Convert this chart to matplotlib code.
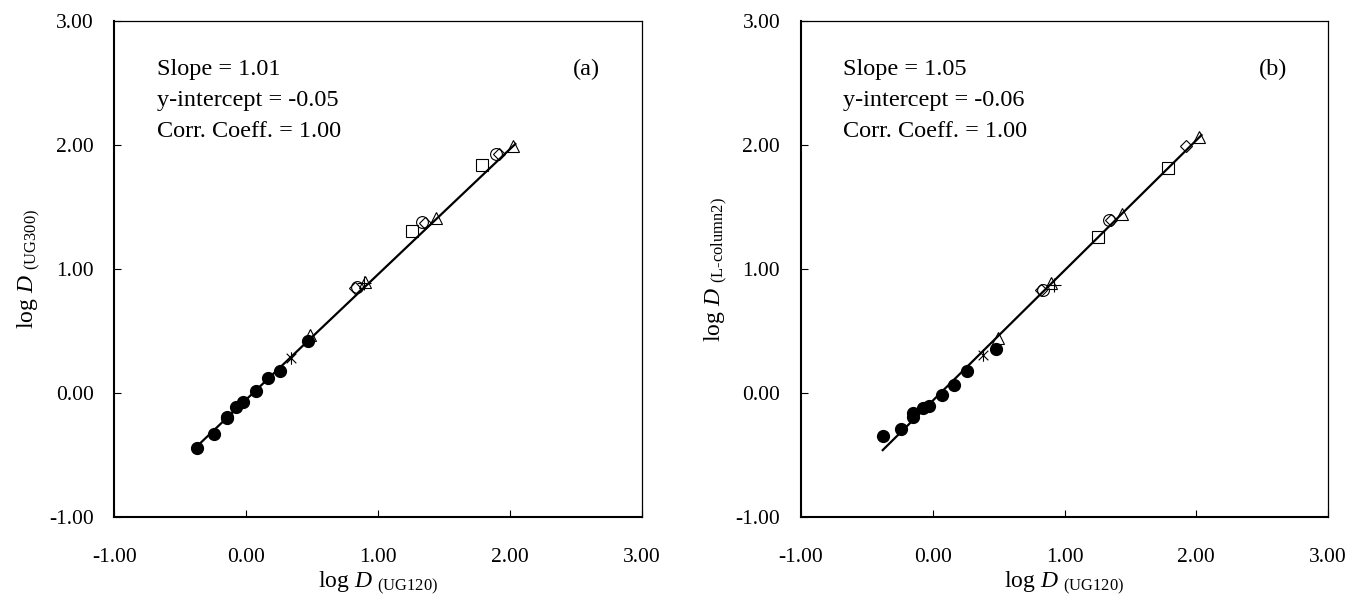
import matplotlib
matplotlib.use("Agg")
import matplotlib.pyplot as plt
import numpy as np
from matplotlib.path import Path

plt.rcParams['font.family'] = ['Liberation Serif', 'DejaVu Serif']
plt.rcParams['mathtext.fontset'] = 'custom'
plt.rcParams['mathtext.rm'] = 'Liberation Serif'
plt.rcParams['mathtext.it'] = 'Liberation Serif:italic'

# --- Panel (a) : log D (UG120) vs log D (UG300) ---
a_filled_x = [-0.377, -0.246, -0.150, -0.145, -0.080, -0.029, 0.070, 0.165, 0.256, 0.468]
a_filled_y = [-0.441, -0.328, -0.202, -0.195, -0.110, -0.070, 0.019, 0.119, 0.177, 0.419]
a_star_x = [0.337]
a_star_y = [0.285]
a_tri_x = [0.48, 0.90, 1.436, 2.02]
a_tri_y = [0.47, 0.90, 1.414, 1.99]
a_dia_x = [0.82, 1.355, 1.915]
a_dia_y = [0.85, 1.373, 1.927]
a_circ_x = [0.84, 1.332, 1.89]
a_circ_y = [0.86, 1.381, 1.93]
a_sq_x = [1.255, 1.789]
a_sq_y = [1.312, 1.841]
a_plus_x = [0.89]
a_plus_y = [0.89]
a_fit = (1.01, -0.05)
a_stats = ["Slope = 1.01", "y-intercept = -0.05", "Corr. Coeff. = 1.00"]

# --- Panel (b) : log D (UG120) vs log D (L-column2) ---
b_filled_x = [-0.375, -0.243, -0.152, -0.147, -0.076, -0.026, 0.073, 0.159, 0.263, 0.478]
b_filled_y = [-0.347, -0.285, -0.196, -0.159, -0.119, -0.102, -0.014, 0.062, 0.175, 0.360]
b_star_x = [0.384]
b_star_y = [0.306]
b_tri_x = [0.496, 0.90, 1.435, 2.02]
b_tri_y = [0.444, 0.89, 1.444, 2.07]
b_dia_x = [0.82, 1.35, 1.92]
b_dia_y = [0.83, 1.40, 1.99]
b_circ_x = [0.84, 1.334]
b_circ_y = [0.83, 1.395]
b_sq_x = [1.253, 1.789]
b_sq_y = [1.256, 1.817]
b_plus_x = [0.92]
b_plus_y = [0.87]
b_fit = (1.05, -0.06)
b_stats = ["Slope = 1.05", "y-intercept = -0.06", "Corr. Coeff. = 1.00"]

fit_x_range = (-0.38, 2.04)
ticks = [-1.0, 0.0, 1.0, 2.0, 3.0]

# marqueur étoile (X + barre verticale)
star = Path([(-1, -1), (1, 1), (-1, 1), (1, -1), (0, -1.3), (0, 1.3)],
            [Path.MOVETO, Path.LINETO, Path.MOVETO, Path.LINETO, Path.MOVETO, Path.LINETO])


def draw_panel(ax, d, ylabel, letter):
    fx = np.array(fit_x_range)
    ax.plot(fx, d['fit'][0] * fx + d['fit'][1], color='black', lw=1.6, zorder=2)
    ax.plot(d['filled'][0], d['filled'][1], 'o', ms=8.5, color='black', zorder=3, ls='none')
    ax.plot(d['star'][0], d['star'][1], marker=star, ms=9, mec='black', mew=0.8, ls='none', zorder=3)
    ax.plot(d['tri'][0], d['tri'][1], '^', ms=9, mfc='none', mec='black', mew=0.8, ls='none', zorder=3)
    ax.plot(d['dia'][0], d['dia'][1], 'D', ms=6.5, mfc='none', mec='black', mew=0.8, ls='none', zorder=3)
    ax.plot(d['circ'][0], d['circ'][1], 'o', ms=8.5, mfc='none', mec='black', mew=0.8, ls='none', zorder=3)
    ax.plot(d['sq'][0], d['sq'][1], 's', ms=8.5, mfc='none', mec='black', mew=0.8, ls='none', zorder=3)
    ax.plot(d['plus'][0], d['plus'][1], '+', ms=10, mec='black', mew=0.8, ls='none', zorder=3)

    ax.set_xlim(-1, 3)
    ax.set_ylim(-1, 3)
    ax.set_xticks(ticks)
    ax.set_yticks(ticks)
    ax.set_xticklabels(["%.2f" % t for t in ticks])
    ax.set_yticklabels(["%.2f" % t for t in ticks])
    ax.tick_params(direction='in', length=5, width=0.8, labelsize=15.5)
    ax.tick_params(axis='x', pad=22)
    ax.tick_params(axis='y', pad=15)
    for side in ['left', 'bottom']:
        ax.spines[side].set_linewidth(1.5)
    for side in ['top', 'right']:
        ax.spines[side].set_linewidth(0.9)

    ax.set_xlabel(r"log $D$ $_{\mathrm{(UG120)}}$", fontsize=17, labelpad=2)
    ax.set_ylabel(ylabel, fontsize=17, labelpad=4)

    for txt, yy in zip(d['stats'], [0.891, 0.829, 0.766]):
        ax.text(0.08, yy, txt, transform=ax.transAxes, fontsize=17.5, va='baseline', ha='left')
    ax.text(0.895, 0.891, letter, transform=ax.transAxes, fontsize=17.5, va='baseline', ha='center')


fig = plt.figure(figsize=(13.47, 6.07), dpi=100)
ax1 = fig.add_axes([0.085, 0.148, 0.3916, 0.817])
ax2 = fig.add_axes([0.5947, 0.148, 0.3912, 0.817])

data_a = dict(filled=(a_filled_x, a_filled_y), star=(a_star_x, a_star_y), tri=(a_tri_x, a_tri_y),
              dia=(a_dia_x, a_dia_y), circ=(a_circ_x, a_circ_y), sq=(a_sq_x, a_sq_y),
              plus=(a_plus_x, a_plus_y), fit=a_fit, stats=a_stats)
data_b = dict(filled=(b_filled_x, b_filled_y), star=(b_star_x, b_star_y), tri=(b_tri_x, b_tri_y),
              dia=(b_dia_x, b_dia_y), circ=(b_circ_x, b_circ_y), sq=(b_sq_x, b_sq_y),
              plus=(b_plus_x, b_plus_y), fit=b_fit, stats=b_stats)

draw_panel(ax1, data_a, r"log $D$ $_{\mathrm{(UG300)}}$", "(a)")
draw_panel(ax2, data_b, r"log $D$ $_{\mathrm{(L\text{-}column2)}}$", "(b)")

fig.savefig("out.png", dpi=100)
